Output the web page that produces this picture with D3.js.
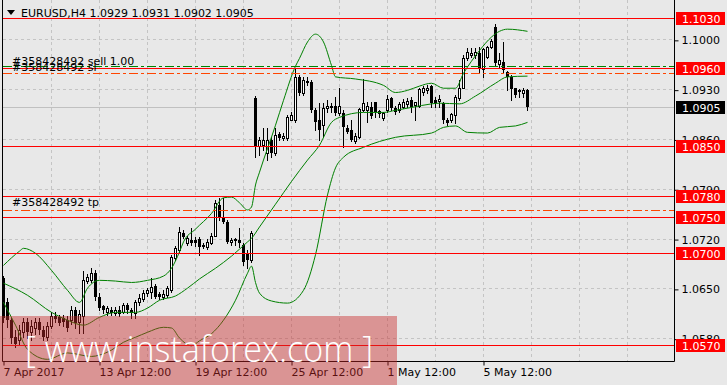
<!DOCTYPE html>
<html>
<head>
<meta charset="utf-8">
<script src="https://cdn.jsdelivr.net/npm/d3@7/dist/d3.min.js"></script>
<style>
  body { margin: 0; background: #e8e8e8; }
  svg { display: block; }
  text { font-family: "DejaVu Sans", Verdana, sans-serif; font-size: 11px; }
</style>
</head>
<body>
<svg id="chart" width="727" height="385"></svg>
<script>
// ---- bars (H4), first bar = 7 Apr 12:00 ----
var symbol = "EURUSD,H4";
var open = [
  1.0665,1.0631,1.0606,1.0583,1.0578,1.0589,1.0603,1.0589,1.0595,1.0603,
  1.0592,1.0583,1.0598,1.0612,1.0610,1.0609,1.0606,1.0606,1.0620,1.0603,
  1.0612,1.0661,1.0662,1.0673,1.0638,1.0626,1.0617,1.0620,1.0616,1.0621,
  1.0617,1.0627,1.0620,1.0616,1.0631,1.0636,1.0644,1.0645,1.0654,1.0643,
  1.0638,1.0641,1.0648,1.0693,1.0704,1.0728,1.0714,1.0719,1.0719,1.0720,
  1.0711,1.0709,1.0714,1.0725,1.0768,1.0749,1.0744,1.0716,1.0718,1.0719,
  1.0711,1.0700,1.0690,1.0918,1.0851,1.0852,1.0841,1.0859,1.0841,1.0867,
  1.0862,1.0862,1.0887,1.0887,1.0948,1.0925,1.0942,1.0941,1.0901,1.0887,
  1.0880,1.0904,1.0905,1.0907,1.0897,1.0897,1.0876,1.0873,1.0858,1.0863,
  1.0901,1.0901,1.0905,1.0912,1.0897,1.0890,1.0901,1.0918,1.0904,1.0901,
  1.0905,1.0910,1.0915,1.0908,1.0907,1.0926,1.0929,1.0935,1.0915,1.0914,
  1.0911,1.0887,1.0887,1.0894,1.0918,1.0933,1.0974,1.0978,1.0978,1.0981,
  1.0959,1.0976,1.0990,1.1018,1.0966,1.0969,1.0955,1.0948,1.0933,1.0929,
  1.0925,1.0929
];
var high = [
  1.0668,1.0637,1.0609,1.0592,1.0599,1.0609,1.0609,1.0606,1.0609,1.0609,
  1.0598,1.0603,1.0617,1.0617,1.0613,1.0613,1.0612,1.0626,1.0624,1.0620,
  1.0675,1.0671,1.0679,1.0676,1.0644,1.0628,1.0626,1.0624,1.0624,1.0626,
  1.0630,1.0630,1.0623,1.0634,1.0643,1.0648,1.0651,1.0665,1.0657,1.0645,
  1.0648,1.0654,1.0697,1.0710,1.0737,1.0733,1.0725,1.0735,1.0723,1.0723,
  1.0714,1.0720,1.0728,1.0775,1.0778,1.0778,1.0747,1.0721,1.0722,1.0735,
  1.0714,1.0704,1.0731,1.0921,1.0863,1.0876,1.0876,1.0863,1.0876,1.0870,
  1.0869,1.0894,1.0898,1.0960,1.0950,1.0948,1.0948,1.0943,1.0904,1.0911,
  1.0911,1.0915,1.0911,1.0919,1.0932,1.0901,1.0880,1.0887,1.0869,1.0904,
  1.0945,1.0912,1.0912,1.0913,1.0901,1.0898,1.0922,1.0919,1.0907,1.0912,
  1.0917,1.0918,1.0919,1.0913,1.0933,1.0935,1.0936,1.0936,1.0919,1.0922,
  1.0912,1.0890,1.0897,1.0922,1.0943,1.0978,1.0988,1.0988,1.0988,1.0990,
  1.0988,1.0992,1.1001,1.1022,1.0981,1.0997,1.0956,1.0950,1.0933,1.0931,
  1.0932,1.0931
];
var low = [
  1.0603,1.0596,1.0574,1.0568,1.0572,1.0583,1.0581,1.0578,1.0586,1.0586,
  1.0578,1.0578,1.0595,1.0603,1.0599,1.0598,1.0591,1.0600,1.0595,1.0588,
  1.0588,1.0658,1.0659,1.0634,1.0620,1.0616,1.0613,1.0613,1.0613,1.0612,
  1.0616,1.0616,1.0609,1.0609,1.0627,1.0633,1.0640,1.0637,1.0637,1.0636,
  1.0636,1.0638,1.0645,1.0690,1.0702,1.0721,1.0711,1.0711,1.0710,1.0697,
  1.0707,1.0706,1.0713,1.0724,1.0747,1.0742,1.0714,1.0711,1.0711,1.0709,
  1.0683,1.0679,1.0688,1.0835,1.0838,1.0845,1.0831,1.0835,1.0838,1.0859,
  1.0859,1.0859,1.0887,1.0884,1.0922,1.0922,1.0936,1.0898,1.0873,1.0859,
  1.0863,1.0898,1.0898,1.0894,1.0894,1.0849,1.0869,1.0858,1.0855,1.0862,
  1.0900,1.0884,1.0890,1.0891,1.0891,1.0887,1.0898,1.0901,1.0896,1.0898,
  1.0904,1.0905,1.0898,1.0887,1.0905,1.0922,1.0925,1.0905,1.0905,1.0905,
  1.0883,1.0881,1.0884,1.0883,1.0915,1.0932,1.0971,1.0976,1.0974,1.0955,
  1.0948,1.0974,1.0988,1.0964,1.0962,1.0955,1.0929,1.0915,1.0919,1.0919,
  1.0919,1.0902
];
var close = [
  1.0609,1.0606,1.0581,1.0572,1.0592,1.0603,1.0589,1.0598,1.0603,1.0592,
  1.0583,1.0598,1.0612,1.0608,1.0602,1.0603,1.0595,1.0620,1.0602,1.0615,
  1.0662,1.0667,1.0673,1.0638,1.0623,1.0620,1.0623,1.0616,1.0621,1.0615,
  1.0628,1.0620,1.0616,1.0631,1.0637,1.0644,1.0648,1.0653,1.0638,1.0638,
  1.0643,1.0651,1.0695,1.0707,1.0730,1.0723,1.0721,1.0714,1.0714,1.0709,
  1.0709,1.0716,1.0725,1.0771,1.0749,1.0744,1.0716,1.0719,1.0720,1.0714,
  1.0688,1.0690,1.0728,1.0849,1.0859,1.0859,1.0859,1.0841,1.0866,1.0862,
  1.0865,1.0891,1.0894,1.0948,1.0925,1.0943,1.0939,1.0901,1.0884,1.0873,
  1.0904,1.0907,1.0907,1.0897,1.0907,1.0877,1.0870,1.0859,1.0865,1.0903,
  1.0911,1.0907,1.0893,1.0898,1.0900,1.0897,1.0917,1.0904,1.0898,1.0910,
  1.0912,1.0914,1.0905,1.0912,1.0931,1.0932,1.0933,1.0911,1.0911,1.0917,
  1.0887,1.0883,1.0896,1.0919,1.0933,1.0974,1.0983,1.0981,1.0983,1.0959,
  1.0987,1.0990,1.0998,1.0967,1.0971,1.0957,1.0948,1.0931,1.0922,1.0926,
  1.0929,1.0905
];

// ---- Bollinger bands at some bars ----
var upIdx = [0,4,5,8,12,16,19,21,24,28,32,36,40,42,44,45,48,52,55,57,59,61,62,63,64,68,70,73,74,76,78,80,82,83,88,95,98,101,104,107,110,113,115,117,119,122,124,126,131];
var upVal = [1.0683,1.0703,1.0707,1.0700,1.0676,1.0648,1.0631,1.0651,1.0662,1.0661,1.0659,1.0662,1.0668,1.0679,1.0702,1.0716,1.0734,1.0756,1.0778,1.0779,1.0771,1.0761,1.0765,1.0796,1.0814,1.0880,1.0915,1.0963,1.0974,1.0997,1.1008,1.0997,1.0964,1.0948,1.0945,1.0936,1.0926,1.0929,1.0935,1.0939,1.0932,1.0932,1.0953,1.0970,1.0985,1.1004,1.1012,1.1015,1.1012];
var midIdx = [0,6,12,16,20,24,28,33,36,39,43,46,49,53,57,61,62,64,68,72,76,79,82,84,90,95,98,102,107,109,114,118,123,126,131];
var midVal = [1.0658,1.0641,1.0617,1.0606,1.0599,1.0610,1.0617,1.0617,1.0623,1.0634,1.0640,1.0651,1.0664,1.0679,1.0696,1.0716,1.0721,1.0737,1.0769,1.0801,1.0831,1.0852,1.0884,1.0891,1.0898,1.0898,1.0901,1.0905,1.0910,1.0911,1.0910,1.0921,1.0939,1.0948,1.0949];
var lowIdx = [0,3,6,11,16,22,24,27,30,33,36,40,42,44,47,49,52,55,58,61,62,63,64,67,71,75,78,81,83,85,90,98,107,110,113,116,121,124,128,131];
var lowVal = [1.0631,1.0599,1.0565,1.0551,1.0560,1.0555,1.0557,1.0564,1.0575,1.0582,1.0589,1.0596,1.0595,1.0581,1.0570,1.0577,1.0587,1.0606,1.0634,1.0672,1.0682,1.0659,1.0644,1.0633,1.0630,1.0648,1.0698,1.0782,1.0820,1.0835,1.0849,1.0863,1.0869,1.0877,1.0879,1.0870,1.0869,1.0877,1.0879,1.0884];

// ---- axes ----
var timeIdx = [0, 24, 48, 72, 96, 120];
var timeLabels = ["7 Apr 2017", "13 Apr 12:00", "19 Apr 12:00", "25 Apr 12:00", "1 May 12:00", "5 May 12:00"];
var priceTicks = [1.1000, 1.0930, 1.0860, 1.0790, 1.0720, 1.0650, 1.0580];

// ---- horizontal levels and order lines ----
var levels = [1.1030, 1.0960, 1.0850, 1.0780, 1.0750, 1.0700, 1.0570];
var orderPrices = [1.0963, 1.0953, 1.0760];
var orderLabels = ["#358428492 sell 1.00", "#358428492 sl", "#358428492 tp"];
var orderColors = ["#008000", "#ff4500", "#ff4500"];

var svg = d3.select("#chart");
var L = 3, R = 674, T = 0, B = 361;

var x = d3.scaleLinear().domain([0, 168]).range([3, 675]);
var y = d3.scaleLinear().domain([1.0570, 1.1030]).range([345.8, 18.5]);
function py(p) { return Math.floor(y(p)) + 0.5; }

svg.append("defs").append("clipPath").attr("id", "plot")
  .append("rect").attr("x", L).attr("y", T).attr("width", R - L).attr("height", B - T);

var plot = svg.append("g").attr("clip-path", "url(#plot)");

// grid
var gridX = d3.range(12, 168, 12);
plot.selectAll(".gx").data(gridX).enter().append("line")
  .attr("x1", function(d) { return x(d) + 0.5; }).attr("x2", function(d) { return x(d) + 0.5; })
  .attr("y1", T).attr("y2", B)
  .attr("stroke", "#c4c4c4").attr("stroke-dasharray", "3,3");
plot.selectAll(".gy").data(priceTicks).enter().append("line")
  .attr("x1", L).attr("x2", R)
  .attr("y1", py).attr("y2", py)
  .attr("stroke", "#c4c4c4").attr("stroke-dasharray", "3,3");

// bid line
var last = close.length - 1;
plot.append("line").attr("x1", L).attr("x2", R)
  .attr("y1", py(close[last])).attr("y2", py(close[last]))
  .attr("stroke", "#c0c0c0");

// candles
var bars = d3.range(open.length);
var candle = plot.selectAll(".c").data(bars).enter().append("g");
candle.append("line")
  .attr("x1", function(i) { return x(i) + 0.5; }).attr("x2", function(i) { return x(i) + 0.5; })
  .attr("y1", function(i) { return Math.round(y(high[i])); })
  .attr("y2", function(i) { return Math.round(y(low[i])) + 1; })
  .attr("stroke", "#000");
candle.append("rect")
  .attr("x", function(i) { return close[i] < open[i] ? x(i) - 1 : x(i) - 0.5; })
  .attr("width", function(i) { return close[i] < open[i] ? 3 : 2; })
  .attr("y", function(i) {
    var t = Math.round(y(Math.max(open[i], close[i])));
    return close[i] < open[i] ? t : t + 0.5;
  })
  .attr("height", function(i) {
    var h = Math.round(y(Math.min(open[i], close[i]))) - Math.round(y(Math.max(open[i], close[i])));
    return close[i] < open[i] ? Math.max(h, 1) : Math.max(h, 0);
  })
  .attr("fill", function(i) { return close[i] < open[i] ? "#000" : "#fff"; })
  .attr("stroke", function(i) { return close[i] < open[i] ? "none" : "#000"; });

// bollinger bands
function band(idx, vals) {
  return d3.line()
    .x(function(d, k) { return x(idx[k]) + 0.5; })
    .y(function(d) { return y(d); })
    .curve(d3.curveMonotoneX)(vals);
}
[[upIdx, upVal], [midIdx, midVal], [lowIdx, lowVal]].forEach(function(b) {
  plot.append("path").attr("d", band(b[0], b[1]))
    .attr("fill", "none").attr("stroke", "#008000").attr("stroke-width", 1);
});

// order lines
orderPrices.forEach(function(p, k) {
  plot.append("line").attr("x1", L).attr("x2", R)
    .attr("y1", py(p)).attr("y2", py(p))
    .attr("stroke", orderColors[k]).attr("stroke-dasharray", "9,3,3,3");
});

// level lines
plot.selectAll(".lv").data(levels).enter().append("line")
  .attr("x1", L).attr("x2", R)
  .attr("y1", py).attr("y2", py)
  .attr("stroke", "#ff0000");

// order labels
var labelY = [64.5, 71, 206];
orderLabels.forEach(function(t, k) {
  svg.append("text").attr("x", 12).attr("y", labelY[k]).attr("fill", "#000").text(t);
});

// frame
svg.append("path")
  .attr("d", "M2.5,0V" + (B + 0.5) + "H" + (R + 0.5) + "V0")
  .attr("fill", "none").attr("stroke", "#000");

// right price axis
var yAxis = d3.axisRight(y).tickValues(priceTicks).tickSize(4).tickFormat(d3.format(".4f"));
var ya = svg.append("g").attr("transform", "translate(" + (R + 0.5) + ",0.5)").call(yAxis);
ya.select(".domain").remove();
ya.selectAll("line").attr("stroke", "#000");
ya.selectAll("text").attr("fill", "#000").attr("font-size", 11)
  .attr("font-family", "DejaVu Sans, sans-serif");

// price boxes for levels and last price
var boxes = levels.map(function(p) { return { p: p, fill: "#ff0000" }; });
boxes.push({ p: close[last], fill: "#000" });
var bx = svg.selectAll(".bx").data(boxes).enter().append("g")
  .attr("transform", function(d) { return "translate(676," + (py(d.p) - 6.5) + ")"; });
bx.append("rect").attr("width", 49).attr("height", 13).attr("fill", function(d) { return d.fill; });
bx.append("text").attr("x", 6).attr("y", 10.5).attr("fill", "#fff")
  .text(function(d) { return d3.format(".4f")(d.p); });

// bottom time axis
var xAxis = d3.axisBottom(x).tickValues(timeIdx).tickSize(4)
  .tickFormat(function(d, k) { return timeLabels[k]; });
var xa = svg.append("g").attr("transform", "translate(0.5," + (B + 0.5) + ")").call(xAxis);
xa.select(".domain").remove();
xa.selectAll("line").attr("stroke", "#000");
xa.selectAll("text").attr("text-anchor", "start").attr("x", -0.5).attr("fill", "#000")
  .attr("font-size", 11).attr("font-family", "DejaVu Sans, sans-serif");

// header
svg.append("path").attr("d", "M7,10H15L11,15Z").attr("fill", "#000");
svg.append("text").attr("x", 21).attr("y", 17).attr("fill", "#000")
  .text(symbol + "  " + [open[last], high[last], low[last], close[last]].map(d3.format(".4f")).join(" "));

// watermark
svg.append("rect").attr("x", 0).attr("y", 316).attr("width", 397).attr("height", 69)
  .attr("fill", "rgb(200,40,40)").attr("fill-opacity", 0.44);
svg.append("text").attr("x", 25).attr("y", 362)
  .attr("fill", "#fff").style("font-family", "'Open Sans', sans-serif").style("font-size", "37px")
  .style("font-weight", 300)
  .attr("textLength", 348).attr("lengthAdjust", "spacingAndGlyphs")
  .text("[ www.instaforex.com ]");
</script>
</body>
</html>
